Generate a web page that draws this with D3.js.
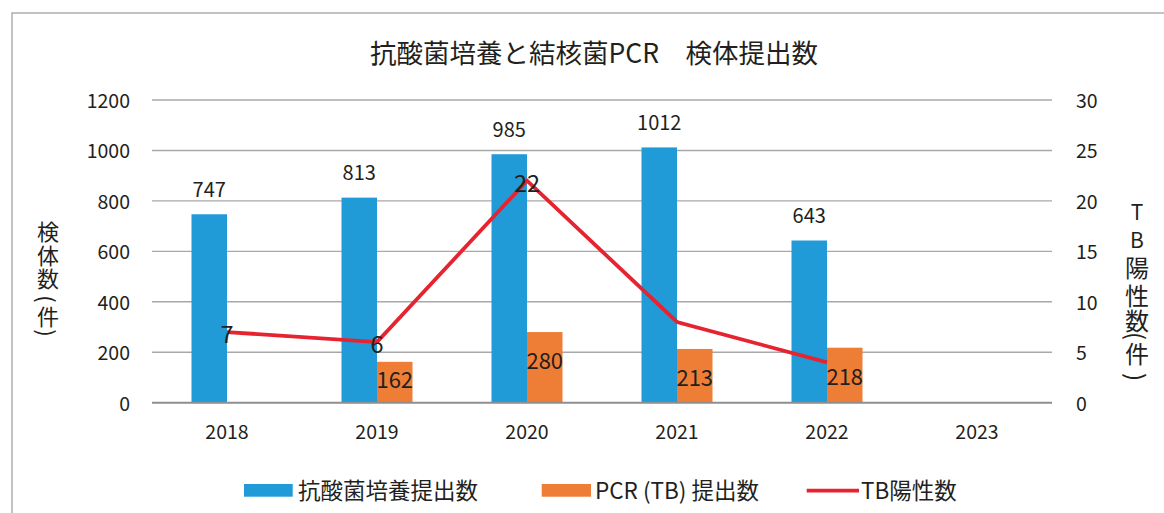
<!DOCTYPE html>
<html>
<head>
<meta charset="utf-8">
<script src="https://cdn.jsdelivr.net/npm/d3@7"></script>
<style>
  html, body { margin: 0; padding: 0; background: #fff; }
  svg { display: block; }
  text { font-family: "Noto Sans CJK JP", "Noto Sans", sans-serif; fill: #231f20; }
</style>
</head>
<body>
<svg id="chart" width="1164" height="513"></svg>
<script>
// Years on the category axis
const years = ["2018", "2019", "2020", "2021", "2022", "2023"];
// 抗酸菌培養 提出数 (left axis)
const cultureCounts = [747, 813, 985, 1012, 643, null];
// PCR(TB) 提出数 (left axis)
const pcrCounts = [null, 162, 280, 213, 218, null];
// TB陽性数 (right axis)
const tbPositive = [7, 6, 22, 8, 4, null];
// Years whose TB陽性数 point carries a value label
const tbLabelledYears = ["2018", "2019", "2020"];
// Axis ticks
const leftTicks = [0, 200, 400, 600, 800, 1000, 1200];
const rightTicks = [0, 5, 10, 15, 20, 25, 30];

const title = "抗酸菌培養と結核菌PCR\u3000検体提出数";
// vertical axis titles, one glyph per entry; parentheses are turned sideways
const leftTitle = ["検", "体", "数", "(", "件", ")"];
const rightTitle = ["T", "B", "陽", "性", "数", "(", "件", ")"];

const blue = "#209bd8", orange = "#ee7d36", red = "#e52430";

const svg = d3.select("#chart");

// outer chart frame
svg.append("rect")
  .attr("x", 12).attr("y", 13).attr("width", 1170).attr("height", 520)
  .attr("fill", "none").attr("stroke", "#a3a3a3").attr("stroke-width", 1.3);

const plot = { left: 152, right: 1052, top: 100, bottom: 402.7 };

const x = d3.scaleBand().domain(years).range([plot.left, plot.right]).padding(0);
const sub = d3.scaleBand().domain(["culture", "pcr"]).range([-35.5, 35.5]).padding(0);
const yL = d3.scaleLinear().domain([0, 1200]).range([plot.bottom, plot.top]);
const yR = d3.scaleLinear().domain([0, 30]).range([plot.bottom, plot.top]);
const cx = yr => x(yr) + x.bandwidth() / 2;

// title
svg.append("text")
  .attr("x", 594).attr("y", 51)
  .attr("text-anchor", "middle").attr("dominant-baseline", "central")
  .attr("font-size", 26.5)
  .text(title);

// gridlines
svg.append("g").selectAll("line")
  .data(leftTicks.filter(t => t > 0))
  .join("line")
  .attr("x1", plot.left).attr("x2", plot.right)
  .attr("y1", d => yL(d)).attr("y2", d => yL(d))
  .attr("stroke", "#a8a8a8").attr("stroke-width", 1.4);

const tickFont = sel => sel.attr("font-size", 19.5).attr("fill", "#231f20")
  .attr("font-family", '"Noto Sans CJK JP", sans-serif');

// left axis labels
const leftAxis = d3.axisLeft(yL).tickValues(leftTicks).tickFormat(d3.format("d"))
  .tickSize(0).tickPadding(22);
const gl = svg.append("g").attr("transform", `translate(${plot.left},0)`).call(leftAxis);
gl.select(".domain").remove();
gl.selectAll("text").call(tickFont).attr("dy", "0.38em");

// right axis labels
const rightAxis = d3.axisRight(yR).tickValues(rightTicks).tickFormat(d3.format("d"))
  .tickSize(0).tickPadding(24);
const gr = svg.append("g").attr("transform", `translate(${plot.right},0)`).call(rightAxis);
gr.select(".domain").remove();
gr.selectAll("text").call(tickFont).attr("dy", "0.38em");

// bars
const cultureData = years.map((yr, i) => ({ yr, v: cultureCounts[i] })).filter(d => d.v != null);
const pcrData = years.map((yr, i) => ({ yr, v: pcrCounts[i] })).filter(d => d.v != null);

svg.append("g").selectAll("rect").data(cultureData).join("rect")
  .attr("x", d => cx(d.yr) + sub("culture"))
  .attr("width", sub.bandwidth())
  .attr("y", d => yL(d.v))
  .attr("height", d => yL(0) - yL(d.v))
  .attr("fill", blue);

svg.append("g").selectAll("rect").data(pcrData).join("rect")
  .attr("x", d => cx(d.yr) + sub("pcr"))
  .attr("width", sub.bandwidth())
  .attr("y", d => yL(d.v))
  .attr("height", d => yL(0) - yL(d.v))
  .attr("fill", orange);

// baseline
svg.append("line")
  .attr("x1", plot.left).attr("x2", plot.right)
  .attr("y1", yL(0)).attr("y2", yL(0))
  .attr("stroke", "#8e8e8e").attr("stroke-width", 2);

// category labels
const gx = svg.append("g").attr("transform", `translate(0,${plot.bottom})`)
  .call(d3.axisBottom(x).tickSize(0).tickPadding(22));
gx.select(".domain").remove();
gx.selectAll("text").call(tickFont);

// TB陽性数 line
const tbData = years.map((yr, i) => ({ yr, v: tbPositive[i] })).filter(d => d.v != null);
const line = d3.line().x(d => cx(d.yr)).y(d => yR(d.v));
svg.append("path")
  .datum(tbData)
  .attr("d", line)
  .attr("fill", "none").attr("stroke", red).attr("stroke-width", 3.8)
  .attr("stroke-linejoin", "miter");

// value labels: culture bars (above)
svg.append("g").selectAll("text").data(cultureData).join("text")
  .attr("x", d => cx(d.yr) + sub("culture") + sub.bandwidth() / 2)
  .attr("y", d => yL(d.v) - 17.5)
  .attr("text-anchor", "middle")
  .attr("font-size", 20)
  .text(d => d.v);

// value labels: PCR bars (inside)
svg.append("g").selectAll("text").data(pcrData).join("text")
  .attr("x", d => cx(d.yr) + sub("pcr") + sub.bandwidth() / 2)
  .attr("y", d => Math.min(yL(d.v) + 27, yL(0) - 25))
  .attr("text-anchor", "middle").attr("dominant-baseline", "central")
  .attr("font-size", 22)
  .text(d => d.v);

// value labels: TB陽性数 points
svg.append("g").selectAll("text").data(tbData.filter(d => tbLabelledYears.includes(d.yr))).join("text")
  .attr("x", d => cx(d.yr))
  .attr("y", d => yR(d.v) + 1)
  .attr("text-anchor", "middle").attr("dominant-baseline", "central")
  .attr("font-size", 23.5)
  .text(d => d.v);

// vertical axis titles
function verticalTitle(chars, xPos, ys, sizeOf) {
  svg.append("g").selectAll("text").data(chars).join("text")
    .attr("text-anchor", "middle").attr("dominant-baseline", "central")
    .attr("font-size", (d, i) => sizeOf(d, i))
    .attr("transform", (d, i) => {
      const turn = (d === "(" || d === ")") ? " rotate(90)" : "";
      return `translate(${xPos},${ys[i]})${turn}`;
    })
    .text(d => d);
}
verticalTitle(leftTitle, 48, [230, 253.5, 277, 299, 315, 333], () => 22);
verticalTitle(rightTitle, 1137, [211, 239, 266, 294, 319, 336, 352, 377],
  (d, i) => i < 2 ? 21 : 24);

// legend
const legend = svg.append("g");
legend.append("rect").attr("x", 244).attr("y", 484).attr("width", 48.7).attr("height", 12.7).attr("fill", blue);
legend.append("text").attr("x", 298).attr("y", 489).attr("dominant-baseline", "central")
  .attr("font-size", 22.5).text("抗酸菌培養提出数");
legend.append("rect").attr("x", 541.7).attr("y", 484).attr("width", 49.3).attr("height", 12.7).attr("fill", orange);
legend.append("text").attr("x", 595).attr("y", 489).attr("dominant-baseline", "central")
  .attr("font-size", 22.5).text("PCR (TB) 提出数");
legend.append("line").attr("x1", 806.7).attr("x2", 859).attr("y1", 490.7).attr("y2", 490.7)
  .attr("stroke", red).attr("stroke-width", 3.8);
legend.append("text").attr("x", 861).attr("y", 489).attr("dominant-baseline", "central")
  .attr("font-size", 22.5).text("TB陽性数");
</script>
</body>
</html>
